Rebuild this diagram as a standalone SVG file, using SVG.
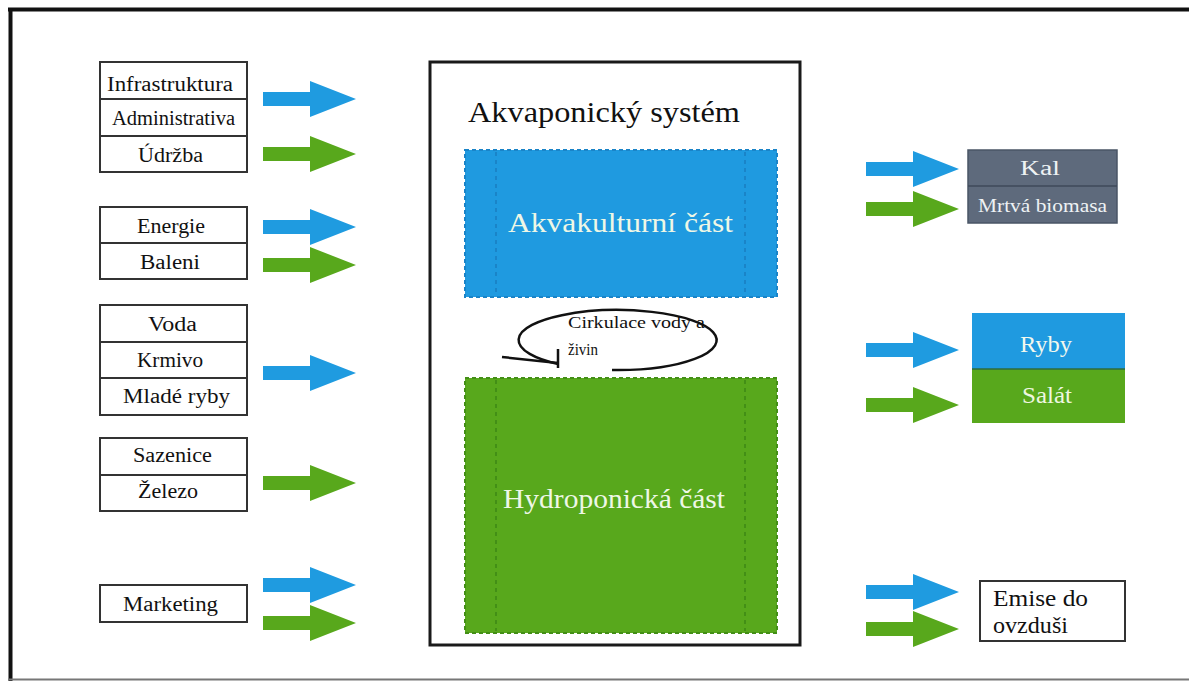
<svg xmlns="http://www.w3.org/2000/svg" width="1189" height="681" viewBox="0 0 1189 681" font-family="'Liberation Serif', 'DejaVu Serif', serif">
<style>
text{font-family:'Liberation Serif','Times New Roman','DejaVu Serif',serif;fill:#111}
.lbl{font-size:20px}
.box{fill:#fff;stroke:#333;stroke-width:2}
.light{fill:#eef7e6}
.arB{fill:#1f9be0}
.arG{fill:#58a81c}
</style>
<defs>
<path id="arrow" d="M0,-7 H47 V-18 L93,0 L47,18 V7 H0 Z"/>
</defs>
<rect width="1189" height="681" fill="#fff"/>
<g id="frame">
<line x1="8" y1="9.5" x2="1189" y2="9.5" stroke="#111" stroke-width="4"/>
<line x1="10.5" y1="8" x2="10.5" y2="681" stroke="#111" stroke-width="4"/>
<line x1="8" y1="679.5" x2="1189" y2="679.5" stroke="#777" stroke-width="2"/>
</g>

<g id="inputs-1">
<rect class="box" x="100" y="62" width="147" height="110"/>
<line x1="100" y1="99" x2="247" y2="99" stroke="#333" stroke-width="2"/>
<line x1="100" y1="136" x2="247" y2="136" stroke="#333" stroke-width="2"/>
<text class="lbl" x="107" y="91" textLength="126" lengthAdjust="spacingAndGlyphs">Infrastruktura</text>
<text class="lbl" x="112" y="125" textLength="123" lengthAdjust="spacingAndGlyphs">Administrativa</text>
<text class="lbl" x="138" y="162" textLength="65" lengthAdjust="spacingAndGlyphs">Údržba</text>
</g>
<g id="inputs-2">
<rect class="box" x="100" y="207" width="147" height="72"/>
<line x1="100" y1="243" x2="247" y2="243" stroke="#333" stroke-width="2"/>
<text class="lbl" x="137" y="233" textLength="68" lengthAdjust="spacingAndGlyphs">Energie</text>
<text class="lbl" x="140" y="269" textLength="60" lengthAdjust="spacingAndGlyphs">Baleni</text>
</g>
<g id="inputs-3">
<rect class="box" x="100" y="305" width="147" height="110"/>
<line x1="100" y1="342" x2="247" y2="342" stroke="#333" stroke-width="2"/>
<line x1="100" y1="378" x2="247" y2="378" stroke="#333" stroke-width="2"/>
<text class="lbl" x="148" y="331" textLength="49" lengthAdjust="spacingAndGlyphs">Voda</text>
<text class="lbl" x="137" y="367" textLength="66" lengthAdjust="spacingAndGlyphs">Krmivo</text>
<text class="lbl" x="123" y="403" textLength="107" lengthAdjust="spacingAndGlyphs">Mladé ryby</text>
</g>
<g id="inputs-4">
<rect class="box" x="100" y="438" width="147" height="73"/>
<line x1="100" y1="475" x2="247" y2="475" stroke="#333" stroke-width="2"/>
<text class="lbl" x="133" y="462" textLength="79" lengthAdjust="spacingAndGlyphs">Sazenice</text>
<text class="lbl" x="138" y="498" textLength="60" lengthAdjust="spacingAndGlyphs">Železo</text>
</g>
<g id="inputs-5">
<rect class="box" x="100" y="585" width="147" height="37"/>
<text class="lbl" x="123" y="611" textLength="95" lengthAdjust="spacingAndGlyphs">Marketing</text>
</g>

<g id="system">
<rect x="430" y="62" width="370" height="583" fill="#fff" stroke="#1a1a1a" stroke-width="3"/>
<text x="468" y="122" font-size="30" textLength="272" lengthAdjust="spacingAndGlyphs">Akvaponický systém</text>
</g>
<g id="aquaculture">
<rect x="465" y="150" width="312" height="147" fill="#1f9ae0" stroke="#1a84c8" stroke-width="2" stroke-dasharray="4,3"/>
<line x1="496" y1="152" x2="496" y2="295" stroke="#1a84c8" stroke-width="2" stroke-dasharray="4,4"/>
<line x1="745" y1="152" x2="745" y2="295" stroke="#1a84c8" stroke-width="2" stroke-dasharray="4,4"/>
<text class="light" x="508" y="232" font-size="27" textLength="225" lengthAdjust="spacingAndGlyphs">Akvakulturní část</text>
</g>
<g id="circulation">
<path d="M612,370 A99,30 0 1 0 558,364" fill="none" stroke="#111" stroke-width="2.5"/>
<path d="M502,357 L558,363 M558,349 L558,368" fill="none" stroke="#111" stroke-width="2.5"/>
<text x="568" y="328" font-size="17" textLength="137" lengthAdjust="spacingAndGlyphs">Cirkulace vody a</text>
<text x="568" y="355" font-size="17" textLength="30" lengthAdjust="spacingAndGlyphs">živin</text>
</g>
<g id="hydroponics">
<rect x="465" y="378" width="312" height="255" fill="#58a81c" stroke="#438f16" stroke-width="2" stroke-dasharray="4,3"/>
<line x1="496" y1="380" x2="496" y2="631" stroke="#438f16" stroke-width="2" stroke-dasharray="4,4"/>
<line x1="745" y1="380" x2="745" y2="631" stroke="#438f16" stroke-width="2" stroke-dasharray="4,4"/>
<text class="light" x="503" y="508" font-size="27" textLength="222" lengthAdjust="spacingAndGlyphs">Hydroponická část</text>
</g>

<g id="out-waste">
<rect x="968" y="150" width="149" height="73" fill="#5e6a7c" stroke="#4a5566" stroke-width="1.5"/>
<line x1="968" y1="186" x2="1117" y2="186" stroke="#3f4a5a" stroke-width="1.5"/>
<text x="1020" y="175" font-size="20" style="fill:#eef2f4" textLength="40" lengthAdjust="spacingAndGlyphs">Kal</text>
<text x="978" y="212" font-size="19" style="fill:#eef2f4" textLength="129" lengthAdjust="spacingAndGlyphs">Mrtvá biomasa</text>
</g>
<g id="out-products">
<rect x="972" y="313" width="153" height="56" fill="#1f9ae0"/>
<rect x="972" y="369" width="153" height="54" fill="#58a81c"/>
<line x1="972" y1="369" x2="1125" y2="369" stroke="#2e6a40" stroke-width="1.5"/>
<text x="1020" y="352" font-size="24" style="fill:#f2f8ee" textLength="52" lengthAdjust="spacingAndGlyphs">Ryby</text>
<text x="1022" y="403" font-size="24" style="fill:#eef7e0" textLength="50" lengthAdjust="spacingAndGlyphs">Salát</text>
</g>
<g id="out-emissions">
<rect class="box" x="980" y="581" width="145" height="60"/>
<text x="993" y="606" font-size="23" textLength="95" lengthAdjust="spacingAndGlyphs">Emise do</text>
<text x="993" y="633" font-size="23" textLength="75" lengthAdjust="spacingAndGlyphs">ovzduši</text>
</g>

<g id="connectors">
<use href="#arrow" class="arB" x="263" y="99"/>
<use href="#arrow" class="arG" x="263" y="154"/>
<use href="#arrow" class="arB" x="263" y="227"/>
<use href="#arrow" class="arG" x="263" y="265"/>
<use href="#arrow" class="arB" x="263" y="373"/>
<use href="#arrow" class="arG" x="263" y="483"/>
<use href="#arrow" class="arB" x="263" y="585"/>
<use href="#arrow" class="arG" x="263" y="623"/>
<use href="#arrow" class="arB" x="866" y="169"/>
<use href="#arrow" class="arG" x="866" y="209"/>
<use href="#arrow" class="arB" x="866" y="350"/>
<use href="#arrow" class="arG" x="866" y="405"/>
<use href="#arrow" class="arB" x="866" y="592"/>
<use href="#arrow" class="arG" x="866" y="629"/>
</g>
</svg>
